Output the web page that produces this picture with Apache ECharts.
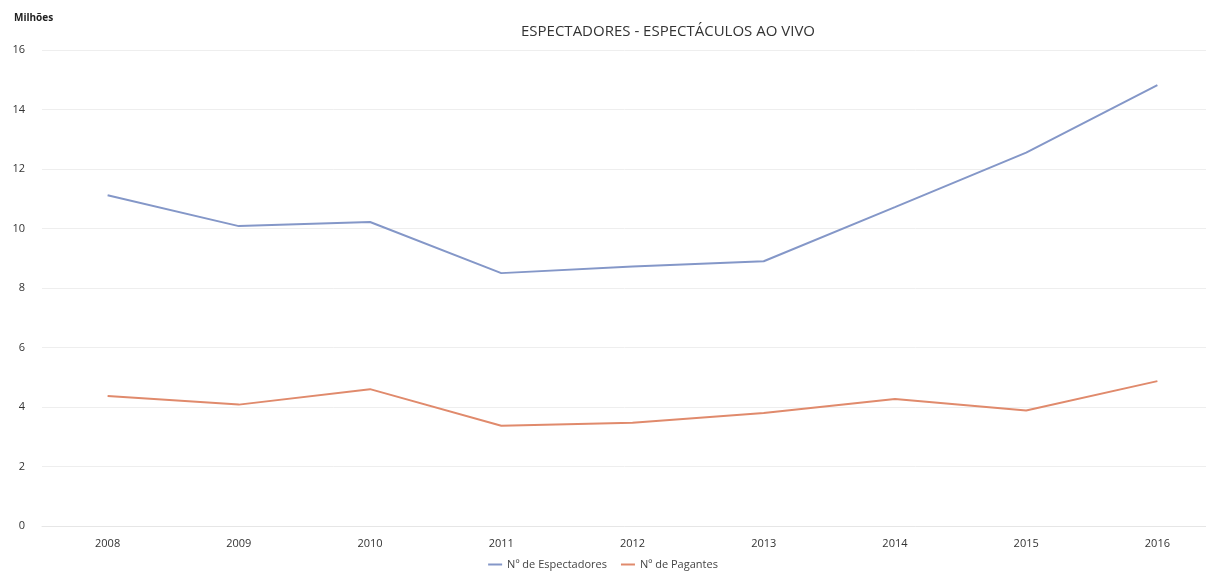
<!DOCTYPE html>
<html>
<head>
<meta charset="utf-8">
<script src="https://cdn.jsdelivr.net/npm/echarts@6/dist/echarts.min.js"></script>
<style>
  html, body { margin: 0; padding: 0; background: #fff; }
  #main { width: 1206px; height: 579px; }
</style>
</head>
<body>
<div id="main"></div>
<script>
  // dados (milhões)
  var anos = ['2008', '2009', '2010', '2011', '2012', '2013', '2014', '2015', '2016'];
  var espectadores = [11.12, 10.08, 10.22, 8.5, 8.72, 8.9, 10.72, 12.55, 14.82];
  var pagantes = [4.37, 4.08, 4.6, 3.37, 3.47, 3.8, 4.27, 3.88, 4.87];
  var yTicks = [0, 2, 4, 6, 8, 10, 12, 14, 16];

  var chart = echarts.init(document.getElementById('main'));
  var fonte = '"Open Sans", "Liberation Sans", sans-serif';

  var option = {
    animation: false,
    textStyle: { fontFamily: fonte },
    title: {
      text: 'ESPECTADORES - ESPECTÁCULOS AO VIVO',
      left: 516,
      top: 19,
      textStyle: { fontSize: 15, fontWeight: 'normal', color: '#333', fontFamily: fonte }
    },
    graphic: [{
      type: 'text',
      left: 14,
      top: 13,
      style: { text: 'Milhões', font: 'bold 10px ' + fonte, fill: '#222' }
    }],
    legend: {
      bottom: 4,
      left: 'center',
      icon: 'rect',
      itemWidth: 14,
      itemHeight: 2,
      itemGap: 14,
      textStyle: { fontSize: 11, color: '#444' },
      data: ['Nº de Espectadores', 'Nº de Pagantes']
    },
    // a grelha continua para lá da margem direita, como no original
    grid: { left: 42, right: -17, top: 50, bottom: 53, containLabel: false, outerBoundsMode: 'none' },
    xAxis: {
      type: 'category',
      data: anos,
      boundaryGap: true,
      axisLine: { show: true, lineStyle: { color: '#e6e6e6' } },
      axisTick: { show: false },
      axisLabel: { color: '#333', fontSize: 11, margin: 12 }
    },
    yAxis: {
      type: 'value',
      min: yTicks[0],
      max: yTicks[yTicks.length - 1],
      interval: 2,
      axisLine: { show: false },
      axisTick: { show: false },
      splitLine: { lineStyle: { color: '#eeeeee', width: 1 } },
      axisLabel: { color: '#333', fontSize: 11, margin: 17 }
    },
    series: [
      {
        name: 'Nº de Espectadores',
        type: 'line',
        data: espectadores,
        symbol: 'none',
        lineStyle: { color: '#8497c8', width: 2 },
        itemStyle: { color: '#8497c8' }
      },
      {
        name: 'Nº de Pagantes',
        type: 'line',
        data: pagantes,
        symbol: 'none',
        lineStyle: { color: '#e08a6c', width: 2 },
        itemStyle: { color: '#e08a6c' }
      }
    ]
  };

  chart.setOption(option);
</script>
</body>
</html>
